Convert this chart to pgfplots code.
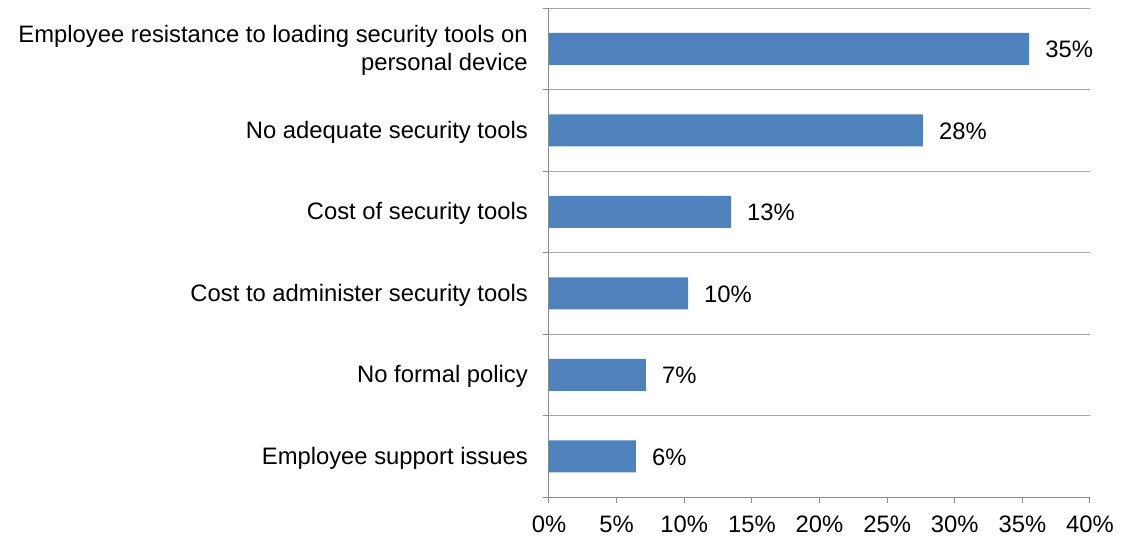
\documentclass[border=0pt]{standalone}
\usepackage{fontspec}
\setmainfont{Liberation Sans}
\usepackage{pgfplots}
\pgfplotsset{compat=1.18}
\definecolor{barblue}{HTML}{4F81BD}
\definecolor{gridgray}{HTML}{A6A6A6}
\definecolor{axisgray}{HTML}{8C8C8C}
\begin{document}
\begin{tikzpicture}
\useasboundingbox (-549pt,-42pt) rectangle (572pt,497pt);
\begin{axis}[
  at={(0,0)}, anchor=south west,
  scale only axis, width=541pt, height=489pt,
  xmin=0, xmax=40, ymin=-0.5, ymax=5.5, y dir=reverse,
  xbar, bar width=32pt,
  axis x line*=bottom, axis y line*=left,
  axis line style={axisgray, line width=1pt},
  every tick/.style={axisgray, line width=1pt},
  tick align=outside,
  major tick length=6pt,
  font=\fontsize{23.8}{28}\selectfont,
  /pgf/number format/assume math mode=true,
  xtick={0,5,...,40},
  xticklabel={\pgfmathprintnumber{\tick}\%},
  xticklabel style={inner sep=0pt, yshift=-13pt},
  ytick={-0.5,0.5,...,5.5},
  yticklabels={},
  ymajorgrids,
  major grid style={gridgray, line width=1pt},
  extra y ticks={0,1,2,3,4,5},
  extra y tick labels={{Employee resistance to loading security tools on\\personal device},{No adequate security tools},{Cost of security tools},{Cost to administer security tools},{No formal policy},{Employee support issues}},
  extra y tick style={major tick length=0pt, grid=none, yticklabel style={align=right, inner sep=0pt, xshift=-21pt, yshift=-2pt}},
  nodes near coords,
  point meta=explicit symbolic,
  nodes near coords style={anchor=west, inner sep=0pt, xshift=16pt, yshift=-1pt, text=black},
]
\addplot[fill=barblue, draw=none] coordinates {
  (35.5,0) [35\%]
  (27.65,1) [28\%]
  (13.46,2) [13\%]
  (10.28,3) [10\%]
  (7.17,4) [7\%]
  (6.43,5) [6\%]
};
\end{axis}
\end{tikzpicture}
\end{document}
